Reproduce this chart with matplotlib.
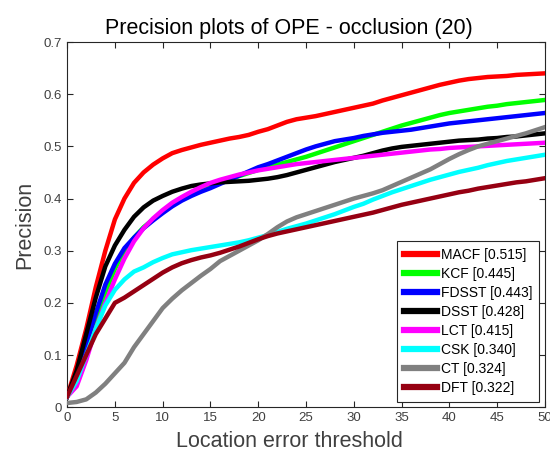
import numpy as np
import matplotlib.pyplot as plt

plt.rcParams['font.family'] = ['Liberation Sans', 'DejaVu Sans']

thresholds = np.arange(0, 51)

macf = [0.02, 0.08, 0.15, 0.23, 0.30, 0.36, 0.40, 0.43, 0.45, 0.465, 0.477, 0.487, 0.493, 0.498, 0.503,
        0.507, 0.511, 0.515, 0.518, 0.522, 0.528, 0.533, 0.54, 0.547, 0.552, 0.555, 0.558, 0.562, 0.566,
        0.57, 0.574, 0.578, 0.582, 0.588, 0.593, 0.598, 0.603, 0.608, 0.613, 0.618, 0.622, 0.626, 0.629,
        0.631, 0.633, 0.634, 0.635, 0.637, 0.638, 0.639, 0.64]
kcf = [0.02, 0.05, 0.10, 0.16, 0.22, 0.265, 0.30, 0.325, 0.345, 0.36, 0.375, 0.388, 0.398, 0.407, 0.415,
       0.422, 0.43, 0.437, 0.443, 0.449, 0.455, 0.46, 0.465, 0.47, 0.475, 0.48, 0.486, 0.492, 0.498,
       0.504, 0.51, 0.516, 0.522, 0.528, 0.534, 0.54, 0.545, 0.55, 0.555, 0.56, 0.564, 0.567, 0.57,
       0.573, 0.576, 0.578, 0.581, 0.583, 0.585, 0.587, 0.589]
fdsst = [0.02, 0.06, 0.12, 0.18, 0.235, 0.275, 0.305, 0.325, 0.343, 0.358, 0.372, 0.385, 0.396, 0.405,
         0.413, 0.42, 0.428, 0.436, 0.444, 0.452, 0.46, 0.466, 0.473, 0.48, 0.487, 0.494, 0.5, 0.505,
         0.51, 0.513, 0.516, 0.52, 0.523, 0.526, 0.528, 0.53, 0.532, 0.535, 0.538, 0.541, 0.544, 0.546,
         0.548, 0.55, 0.552, 0.554, 0.556, 0.558, 0.56, 0.562, 0.564]
dsst = [0.02, 0.07, 0.14, 0.21, 0.27, 0.31, 0.34, 0.365, 0.383, 0.396, 0.405, 0.413, 0.419, 0.424, 0.427,
        0.429, 0.431, 0.432, 0.433, 0.434, 0.436, 0.438, 0.441, 0.445, 0.45, 0.455, 0.46, 0.465, 0.47,
        0.474, 0.478, 0.482, 0.487, 0.492, 0.496, 0.499, 0.501, 0.503, 0.505, 0.507, 0.509, 0.511, 0.512,
        0.513, 0.515, 0.516, 0.518, 0.519, 0.521, 0.523, 0.525]
lct = [0.02, 0.04, 0.09, 0.15, 0.2, 0.245, 0.285, 0.318, 0.343, 0.362, 0.378, 0.392, 0.403, 0.413, 0.422,
       0.43, 0.436, 0.441, 0.446, 0.45, 0.454, 0.457, 0.46, 0.463, 0.466, 0.468, 0.47, 0.472, 0.474,
       0.476, 0.478, 0.48, 0.482, 0.484, 0.486, 0.488, 0.49, 0.492, 0.494, 0.495, 0.497, 0.498, 0.499,
       0.5, 0.501, 0.502, 0.503, 0.504, 0.505, 0.506, 0.507]
csk = [0.02, 0.05, 0.1, 0.15, 0.195, 0.225, 0.245, 0.26, 0.268, 0.278, 0.286, 0.293, 0.297, 0.301, 0.304,
       0.307, 0.31, 0.313, 0.316, 0.32, 0.325, 0.33, 0.336, 0.342, 0.347, 0.352, 0.358, 0.364, 0.37,
       0.377, 0.384, 0.39, 0.398, 0.405, 0.412, 0.418, 0.424, 0.43, 0.436, 0.441, 0.446, 0.451, 0.455,
       0.459, 0.464, 0.468, 0.472, 0.475, 0.478, 0.481, 0.484]
ct = [0.008, 0.01, 0.015, 0.028, 0.045, 0.065, 0.085, 0.115, 0.14, 0.165, 0.19, 0.208, 0.224, 0.238,
      0.252, 0.265, 0.28, 0.29, 0.3, 0.31, 0.32, 0.332, 0.345, 0.356, 0.364, 0.37, 0.376, 0.382, 0.388,
      0.394, 0.4, 0.405, 0.41, 0.416, 0.424, 0.432, 0.44, 0.448, 0.456, 0.466, 0.476, 0.485, 0.493,
      0.5, 0.505, 0.51, 0.515, 0.52, 0.525, 0.531, 0.537]
dft = [0.02, 0.06, 0.1, 0.14, 0.17, 0.2, 0.21, 0.222, 0.234, 0.246, 0.258, 0.268, 0.276, 0.282, 0.287,
       0.291, 0.296, 0.302, 0.308, 0.315, 0.322, 0.328, 0.333, 0.337, 0.341, 0.345, 0.349, 0.353, 0.357,
       0.361, 0.365, 0.369, 0.373, 0.378, 0.383, 0.388, 0.392, 0.396, 0.4, 0.404, 0.408, 0.412, 0.415,
       0.419, 0.422, 0.425, 0.428, 0.431, 0.433, 0.436, 0.439]

names = ["MACF", "KCF", "FDSST", "DSST", "LCT", "CSK", "CT", "DFT"]
scores = [0.515, 0.445, 0.443, 0.428, 0.415, 0.340, 0.324, 0.322]
series = [macf, kcf, fdsst, dsst, lct, csk, ct, dft]
colors = ["#ff0000", "#00ff00", "#0000ff", "#000000", "#ff00ff", "#00ffff", "#808080", "#960012"]

fig = plt.figure(figsize=(5.5, 4.57), dpi=100)
ax = fig.add_axes([0.122, 0.109, 0.869, 0.799])

for i, (name, sc, ys, c) in enumerate(zip(names, scores, series, colors)):
    ax.plot(thresholds, ys, color=c, linewidth=3.2,
            label="%s [%.3f]" % (name, sc), zorder=3 + i)

ax.set_xlim(0, 50)
ax.set_ylim(0, 0.7)
ax.set_xticks(np.arange(0, 51, 5))
ax.set_yticks(np.arange(0, 0.71, 0.1))
ax.set_yticklabels(["0"] + ["%.1f" % v for v in np.arange(0.1, 0.71, 0.1)])
ax.tick_params(direction="in", top=True, right=True, labelsize=9.5, length=4,
               colors="#262626", labelcolor="#404040")
for s in ax.spines.values():
    s.set_color("#262626")
    s.set_linewidth(0.8)

ax.set_title("Precision plots of OPE - occlusion (20)", fontsize=15.5, pad=6, x=0.465)
ax.set_xlabel("Location error threshold", fontsize=15.5, labelpad=1, color="#404040")
ax.xaxis.set_label_coords(0.465, -0.065)
ax.set_ylabel("Precision", fontsize=15.5, labelpad=6, color="#404040")

leg = ax.legend(loc="lower right", fontsize=10, handlelength=2.4, handletextpad=0.3,
                labelspacing=0.36, borderpad=0.5, fancybox=False, framealpha=1,
                edgecolor="#262626", borderaxespad=0.4)
leg.get_frame().set_linewidth(0.8)
for h in leg.get_lines():
    h.set_linewidth(4.5)

fig.savefig("out.png", dpi=100)
